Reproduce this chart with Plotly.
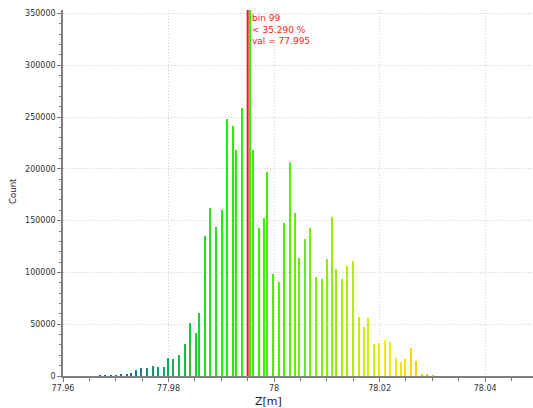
import plotly.graph_objects as go

# Histogram of Z values (bin centres in metres) and their counts
z_bins = [
    77.96697, 77.96801, 77.96905, 77.97009, 77.97104, 77.97205, 77.97284, 77.97379,
    77.97483, 77.97591, 77.97697, 77.97805, 77.97905, 77.97989, 77.98089, 77.98197,
    77.98303, 77.98405, 77.98511, 77.98581, 77.98682, 77.98790, 77.98898, 77.99004,
    77.99112, 77.99220, 77.99282, 77.99390, 77.99535, 77.99598, 77.99705, 77.99813,
    77.99875, 77.99983, 78.00091, 78.00191, 78.00299, 78.00394, 78.00481, 78.00583,
    78.00689, 78.00797, 78.00905, 78.01006, 78.01106, 78.01182, 78.01290, 78.01390,
    78.01498, 78.01606, 78.01712, 78.01788, 78.01890, 78.01996, 78.02098, 78.02205,
    78.02313, 78.02413, 78.02483, 78.02591, 78.02691, 78.02799, 78.02900, 78.03008,
]
counts = [
    100, 100, 150, 300, 1000, 2000, 3200, 6100,
    7600, 8200, 9500, 8400, 9000, 17000, 16100, 20300,
    30900, 51500, 41900, 61200, 135600, 162600, 144000, 160400,
    248300, 241600, 218400, 258300, 360000, 218400, 142700, 152400,
    197400, 98300, 90800, 147500, 206700, 157200, 114300, 132700,
    142700, 95900, 93400, 113300, 153300, 103100, 93400, 106300,
    110800, 56700, 47600, 55700, 30600, 31600, 34800, 33100,
    17700, 13800, 16100, 27300, 14500, 1600, 1000, 500,
]

# Cursor readout
cursor_bin = 99
cursor_pct = 35.290
cursor_val = 77.995

x_ticks = [77.96, 77.98, 78.0, 78.02, 78.04]
x_tick_text = ["77.96", "77.98", "78", "78.02", "78.04"]
y_ticks = [0, 50000, 100000, 150000, 200000, 250000, 300000, 350000]

colorscale = [
    [0.00, "#1a4f8f"],
    [0.10, "#1b6aa0"],
    [0.16, "#158a80"],
    [0.22, "#12a860"],
    [0.28, "#10c838"],
    [0.34, "#1ee81a"],
    [0.45, "#30f000"],
    [0.60, "#66ee00"],
    [0.70, "#99ee00"],
    [0.78, "#ccee00"],
    [0.84, "#f0f000"],
    [0.90, "#ffdd00"],
    [0.95, "#ffbb00"],
    [1.00, "#ff9900"],
]

font_family = "DejaVu Sans"

fig = go.Figure()
fig.add_trace(go.Bar(
    x=z_bins,
    y=counts,
    width=0.00038,
    marker=dict(
        color=z_bins,
        colorscale=colorscale,
        cmin=77.965,
        cmax=78.032,
        line=dict(width=0),
    ),
    showlegend=False,
    hoverinfo="x+y",
))

# Cursor marker line
fig.add_shape(
    type="line", xref="x", yref="paper",
    x0=cursor_val, x1=cursor_val, y0=0, y1=1,
    line=dict(color="#ff1010", width=2),
    layer="above",
)
fig.add_annotation(
    x=cursor_val, xref="x", y=1, yref="paper",
    xanchor="left", yanchor="top", align="left",
    xshift=2, yshift=-1,
    text=f"bin {cursor_bin}<br>< {cursor_pct:.3f} %<br>val = {cursor_val:.3f}",
    showarrow=False,
    font=dict(family=font_family, size=9, color="#ff2222"),
)

# Axis titles
fig.add_annotation(
    x=0.4365, xref="paper", y=-0.071, yref="paper",
    xanchor="center", yanchor="middle",
    text="Z[m]", showarrow=False,
    font=dict(family=font_family, size=11, color="#222222"),
)
fig.add_annotation(
    x=-0.107, xref="paper", y=0.505, yref="paper",
    xanchor="center", yanchor="middle", textangle=-90,
    text="Count", showarrow=False,
    font=dict(family=font_family, size=8.5, color="#222222"),
)

grid = dict(showgrid=True, gridcolor="#d0d0d0", griddash="1px,2px", gridwidth=1)

fig.update_layout(
    width=533, height=408,
    margin=dict(l=63, r=0, t=10, b=32),
    paper_bgcolor="white",
    plot_bgcolor="white",
    bargap=0,
    font=dict(family=font_family, size=8, color="#333333"),
    xaxis=dict(
        range=[77.96, 78.04907],
        tickvals=x_ticks, ticktext=x_tick_text,
        ticks="outside", ticklen=4, tickcolor="#777777", tickwidth=1,
        minor=dict(dtick=0.005, tick0=77.96, ticks="outside", ticklen=3,
                   tickcolor="#777777", showgrid=False),
        showline=True, linecolor="#808080", linewidth=1.5,
        zeroline=False,
        tickfont=dict(family=font_family, size=8, color="#333333"),
        **grid,
    ),
    yaxis=dict(
        range=[0, 353380],
        tickvals=y_ticks, tickformat="d",
        ticks="outside", ticklen=4, tickcolor="#777777", tickwidth=1,
        minor=dict(dtick=10000, ticks="outside", ticklen=2,
                   tickcolor="#777777", showgrid=False),
        showline=True, linecolor="#808080", linewidth=1.5,
        zeroline=False,
        tickfont=dict(family=font_family, size=8, color="#333333"),
        **grid,
    ),
)

fig.write_html("out.html")
